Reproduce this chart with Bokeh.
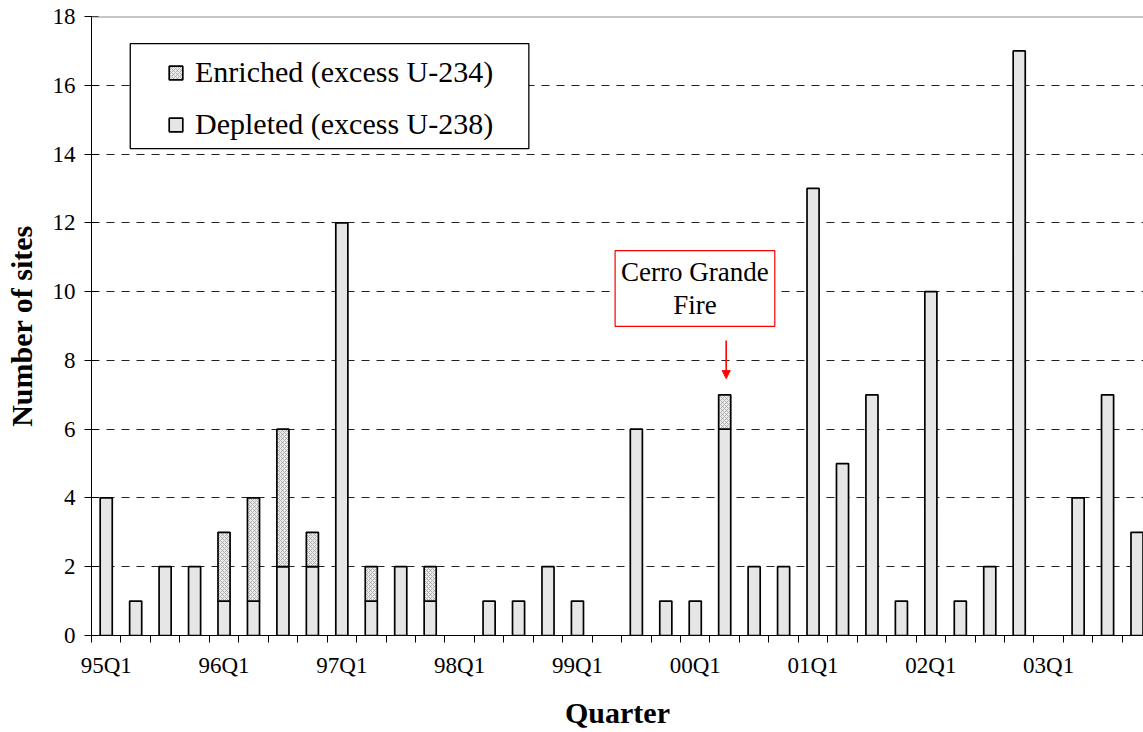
from bokeh.plotting import figure
from bokeh.models import (Range1d, FixedTicker, Legend, LegendItem, Span, Label,
                          Arrow, NormalHead, BoxAnnotation, ColumnDataSource)
from bokeh.embed import file_html
from bokeh.resources import INLINE

quarters = ["95Q1", "95Q2", "95Q3", "95Q4", "96Q1", "96Q2", "96Q3", "96Q4",
            "97Q1", "97Q2", "97Q3", "97Q4", "98Q1", "98Q2", "98Q3", "98Q4",
            "99Q1", "99Q2", "99Q3", "99Q4", "00Q1", "00Q2", "00Q3", "00Q4",
            "01Q1", "01Q2", "01Q3", "01Q4", "02Q1", "02Q2", "02Q3", "02Q4",
            "03Q1", "03Q2", "03Q3", "03Q4"]
depleted = [4, 1, 2, 2, 1, 1, 2, 2, 12, 1, 2, 1, 0, 1, 1, 2, 1, 0, 6, 1,
            1, 6, 2, 2, 13, 5, 7, 1, 10, 1, 2, 17, 0, 4, 7, 3]
enriched = [0, 0, 0, 0, 2, 3, 4, 1, 0, 1, 0, 1, 0, 0, 0, 0, 0, 0, 0, 0,
            0, 1, 0, 0, 0, 0, 0, 0, 0, 0, 0, 0, 0, 0, 0, 0]
y_ticks = [0, 2, 4, 6, 8, 10, 12, 14, 16, 18]
label_every = 4
fire_quarter = "00Q2"
fire_text = "Cerro Grande\nFire"

FONT = "Liberation Serif"
idx = list(range(len(quarters)))

p = figure(width=1143, height=732, output_backend="svg", toolbar_location=None,
           x_range=Range1d(-0.5, 35.22), y_range=Range1d(0, 18),
           min_border_left=91, min_border_right=0, min_border_top=16, min_border_bottom=97)
p.outline_line_color = None
p.background_fill_color = "white"

# x axis
xa = p.xaxis[0]
xa.ticker = FixedTicker(ticks=idx[::label_every], minor_ticks=[i - 0.5 for i in idx] + [idx[-1] + 0.5])
xa.major_label_overrides = {i: quarters[i] for i in idx[::label_every]}
xa.major_tick_line_color = None
xa.major_tick_in = 0
xa.major_tick_out = 0
xa.minor_tick_in = 0
xa.minor_tick_out = 7
xa.minor_tick_line_color = "black"
xa.axis_line_color = "black"
xa.major_label_text_font = FONT
xa.major_label_text_font_size = "23px"
xa.major_label_text_color = "black"
xa.major_label_standoff = 10
xa.axis_label = "Quarter"
xa.axis_label_text_font = FONT
xa.axis_label_text_font_style = "bold"
xa.axis_label_text_font_size = "30px"
xa.axis_label_text_color = "black"
xa.axis_label_standoff = 15

ya = p.yaxis[0]
ya.ticker = FixedTicker(ticks=y_ticks)
ya.minor_tick_line_color = None
ya.major_tick_in = 7
ya.major_tick_out = 7
ya.major_tick_line_color = "black"
ya.axis_line_color = "black"
ya.major_label_text_font = FONT
ya.major_label_text_font_size = "23px"
ya.major_label_text_color = "black"
ya.major_label_standoff = 9
ya.axis_label = "Number of sites"
ya.axis_label_text_font = FONT
ya.axis_label_text_font_style = "bold"
ya.axis_label_text_font_size = "30px"
ya.axis_label_text_color = "black"
ya.axis_label_standoff = 12

p.xgrid.grid_line_color = None
p.ygrid.ticker = FixedTicker(ticks=y_ticks[1:-1])
p.ygrid.grid_line_color = "#222222"
p.ygrid.grid_line_dash = "8 7"
p.ygrid.grid_line_width = 1

p.add_layout(Span(location=y_ticks[-1], dimension="width", line_color="#8c8c8c", line_width=2))

tops = [d + e for d, e in zip(depleted, enriched)]
dep_keep = [i for i in idx if depleted[i] > 0]
dep_src = ColumnDataSource(dict(x=dep_keep, top=[depleted[i] for i in dep_keep]))
enr_keep = [i for i in idx if enriched[i] > 0]
enr_src = ColumnDataSource(dict(x=enr_keep, bottom=[depleted[i] for i in enr_keep],
                                top=[tops[i] for i in enr_keep]))

BW = 0.41
r_dep = p.vbar(x="x", top="top", bottom=0, width=BW, source=dep_src,
               fill_color="#e6e6e6", line_color="black", line_width=1.7)
r_enr = p.vbar(x="x", top="top", bottom="bottom", width=BW, source=enr_src,
               fill_color="#ececec", line_color="black", line_width=1.7,
               hatch_pattern="diagonal_cross", hatch_color="#a0a0a0",
               hatch_scale=4, hatch_weight=0.8)

# legend frame
p.add_layout(BoxAnnotation(left=0.816, right=14.35, top=17.21, bottom=14.16,
                           fill_color="white", fill_alpha=1.0,
                           line_color="black", line_alpha=1.0, line_width=1.3, level="overlay"))

legend = Legend(items=[LegendItem(label="Enriched (excess U-234)", renderers=[r_enr]),
                       LegendItem(label="Depleted (excess U-238)", renderers=[r_dep])],
                location=(76, 494), padding=0, spacing=18, margin=0,
                glyph_width=17, glyph_height=17, label_height=34, label_standoff=11,
                label_text_font=FONT, label_text_font_size="30px", label_text_color="black",
                border_line_color=None, background_fill_alpha=0.0, level="overlay")
p.add_layout(legend)

fi = quarters.index(fire_quarter)
p.add_layout(Label(x=fi - 1.01, y=10.09, text=fire_text, text_align="center",
                   text_baseline="middle", text_font=FONT, text_font_size="27px",
                   text_color="black", text_line_height=1.12,
                   border_line_color="red", border_line_width=1.2,
                   background_fill_color="white", padding=6))
p.add_layout(Arrow(end=NormalHead(size=8, fill_color="red", line_color="red"),
                   x_start=fi + 0.05, y_start=8.58, x_end=fi + 0.05, y_end=7.47,
                   line_color="red", line_width=1.6))

open("out.html", "w").write(file_html(p, INLINE))
